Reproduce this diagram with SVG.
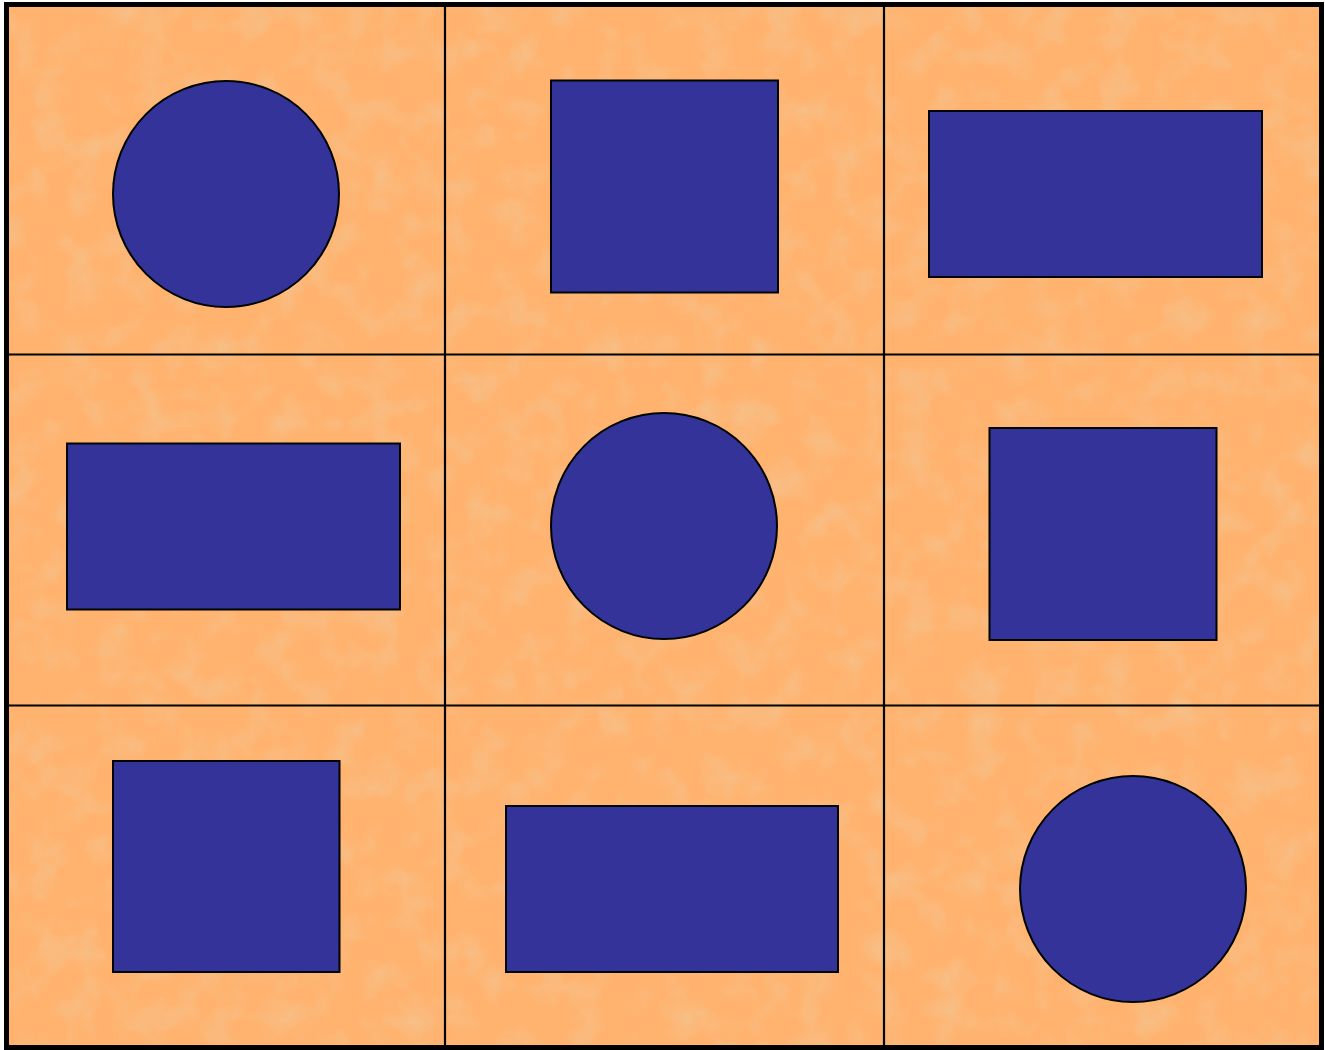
<svg xmlns="http://www.w3.org/2000/svg" width="1325" height="1050" viewBox="0 0 1325 1050">
<defs>
<filter id="tex" x="0" y="0" width="100%" height="100%">
<feTurbulence type="fractalNoise" baseFrequency="0.03" numOctaves="3" seed="7" result="n"/>
<feColorMatrix in="n" type="matrix" values="0 0 0 0 0.88  0 0 0 0 0.58  0 0 0 0 0.32  0 0 0 -2.2 1.2" result="c"/>
<feComposite in="c" in2="SourceGraphic" operator="in"/>
</filter>
<style>
.shape{fill:#333399;stroke:#000;stroke-width:2}
.grid{stroke:#000;stroke-width:2.2;fill:none}
</style>
</defs>
<rect x="0" y="0" width="1325" height="1050" fill="#ffffff"/>
<rect x="6.5" y="4.5" width="1315" height="1043" fill="#ffb36f"/>
<rect x="6.5" y="4.5" width="1315" height="1043" fill="#ffb06c" filter="url(#tex)" opacity="0.55"/>
<g id="grid">
<line class="grid" x1="445" y1="4.5" x2="445" y2="1047.5"/>
<line class="grid" x1="884" y1="4.5" x2="884" y2="1047.5"/>
<line class="grid" x1="6.5" y1="354.5" x2="1321.5" y2="354.5"/>
<line class="grid" x1="6.5" y1="705.5" x2="1321.5" y2="705.5"/>
</g>
<rect x="6.5" y="4.5" width="1315" height="1043" fill="none" stroke="#000" stroke-width="5"/>
<g id="n1"><circle class="shape" cx="226" cy="194" r="113"/></g>
<g id="n2"><rect class="shape" x="551" y="80.5" width="227" height="212"/></g>
<g id="n3"><rect class="shape" x="929" y="111" width="333" height="166"/></g>
<g id="n4"><rect class="shape" x="67" y="443.5" width="333" height="166"/></g>
<g id="n5"><circle class="shape" cx="664" cy="526" r="113"/></g>
<g id="n6"><rect class="shape" x="989.5" y="428" width="227" height="212"/></g>
<g id="n7"><rect class="shape" x="113" y="761" width="226.5" height="211"/></g>
<g id="n8"><rect class="shape" x="506" y="806" width="332" height="166"/></g>
<g id="n9"><circle class="shape" cx="1133" cy="889" r="113"/></g>
<g id="connectors"></g>
</svg>
